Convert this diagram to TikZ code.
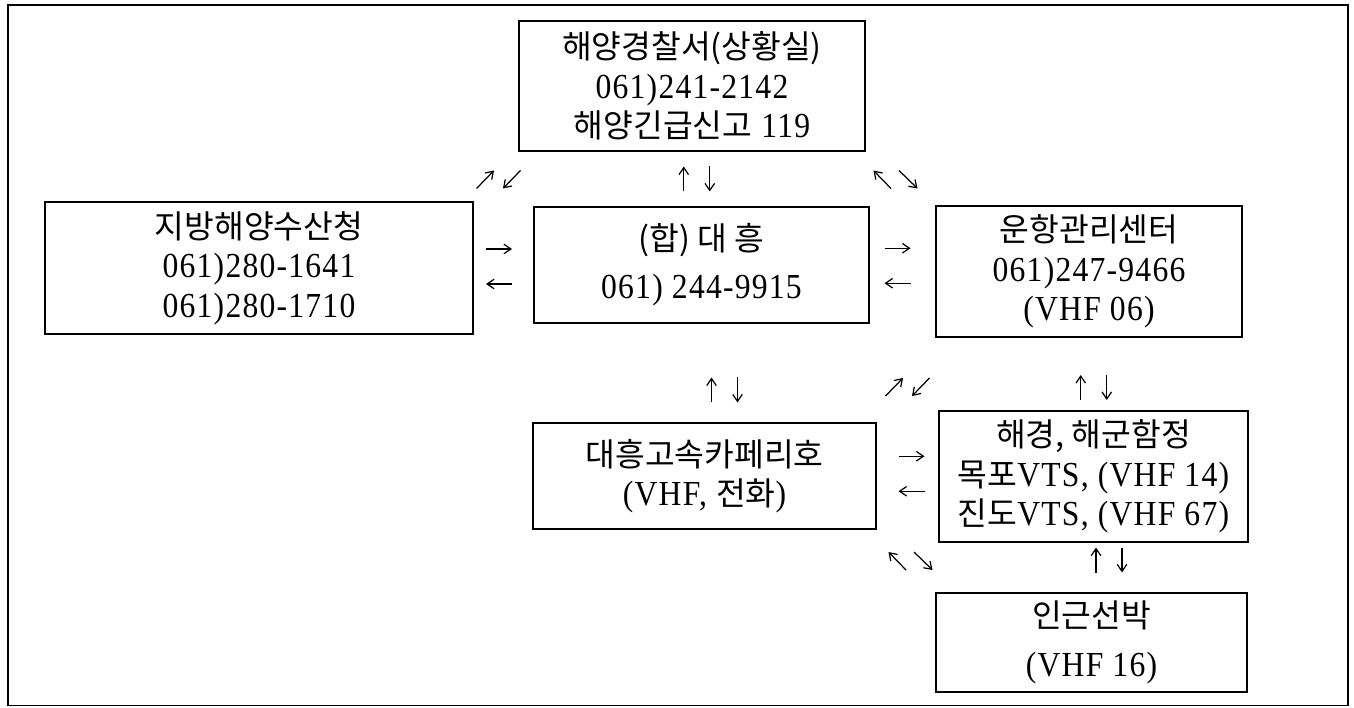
\documentclass[tikz,border=0pt]{standalone}
\usepackage{fontspec}
\setmainfont{Liberation Serif}[FakeStretch=0.9, LetterSpace=3.5]
\newfontfamily\kr{Noto Sans CJK KR}[Scale=0.92]
\usetikzlibrary{arrows.meta,calc}

\tikzset{
  agency/.style={draw, line width=0.8pt, align=center, inner sep=0pt,
    font=\fontsize{20}{22.5}\selectfont},
  sig/.style={line width=0.7pt, -{Straight Barb[length=1.4mm,width=1.9mm]}},
  updown/.pic={\draw[sig] (-0.26,-0.25) -- (-0.26,0.25);
    \draw[sig] (0.26,0.25) -- (0.26,-0.25);},
  leftright/.pic={\draw[sig] (-0.26,0.35) -- (0.26,0.35);
    \draw[sig] (0.26,-0.35) -- (-0.26,-0.35);},
  nesw/.pic={\draw[sig] (-0.44,-0.18) -- (-0.09,0.18);
    \draw[sig] (0.44,0.18) -- (0.09,-0.18);},
  nwse/.pic={\draw[sig] (-0.09,-0.18) -- (-0.44,0.18);
    \draw[sig] (0.07,0.18) -- (0.44,-0.18);},
}

\begin{document}
\begin{tikzpicture}
    \useasboundingbox (0,0) rectangle (27.08,14.14);
    \draw[line width=0.9pt] (0.16,0.03) rectangle (26.96,14.04);

    % boxes
    \node[agency, minimum width=6.92cm, minimum height=2.6cm] (police) at (13.84,12.42)
        {{\kr 해양경찰서(상황실)}\\061)241-2142\\{\kr 해양긴급신고} 119};
    \node[agency, minimum width=8.56cm, minimum height=2.64cm] (office) at (5.18,8.78)
        {{\kr 지방해양수산청}\\061)280-1641\\061)280-1710};
    \node[agency, minimum width=6.7cm, minimum height=2.32cm] (daeheung) at (14.03,8.84)
        {{\kr (합) 대 흥}\\[0.17cm]061) 244-9915};
    \node[agency, minimum width=6.12cm, minimum height=2.62cm] (opscenter) at (21.78,8.71)
        {{\kr 운항관리센터}\\061)247-9466\\(VHF~06)};
    \node[agency, minimum width=6.86cm, minimum height=2.12cm] (ferry) at (14.09,4.62)
        {{\kr 대흥고속카페리호}\\(VHF, {\kr 전화})};
    \node[agency, minimum width=6.18cm, minimum height=2.62cm] (navy) at (21.87,4.61)
        {{\kr 해경, 해군함정}\\{\kr 목포}VTS, (VHF 14)\\{\kr 진도}VTS, (VHF 67)};
    \node[agency, minimum width=6.22cm, minimum height=1.98cm] (ship) at (21.83,1.29)
        {{\kr 인근선박}\\[0.2cm](VHF~16)};

    % arrow pairs between the boxes
    \pic at ($(police.south)!.5!(daeheung.north)$) {updown};
    \pic at ($(daeheung.south)!.5!(ferry.north)+(0.43,-0.34)$) {updown};
    \pic at ($(opscenter.south)!.5!(navy.north)+(0.05,-0.27)$) {updown};
    \pic at ($(navy.south)!.5!(ship.north)+(0.33,0.15)$) {updown};
    \pic at ($(office.east)!.5!(daeheung.west)+(-0.09,0)$) {leftright};
    \pic at ($(daeheung.east)!.5!(opscenter.west)+(-0.1,0.05)$) {leftright};
    \pic at ($(ferry.east)!.5!(navy.west)+(0.08,0.05)$) {leftright};
    \pic at ($(office.north east)!.5!(police.south west)+(0.05,-0.06)$) {nesw};
    \pic at ($(police.south east)!.5!(opscenter.north west)+(-0.1,-0.02)$) {nwse};
    \pic at ($(ferry.north east)!.5!(opscenter.south west)+(0.03,-0.14)$) {nesw};
    \pic at ($(ferry.south east)!.5!(ship.north west)+(0.09,0)$) {nwse};
\end{tikzpicture}
\end{document}
